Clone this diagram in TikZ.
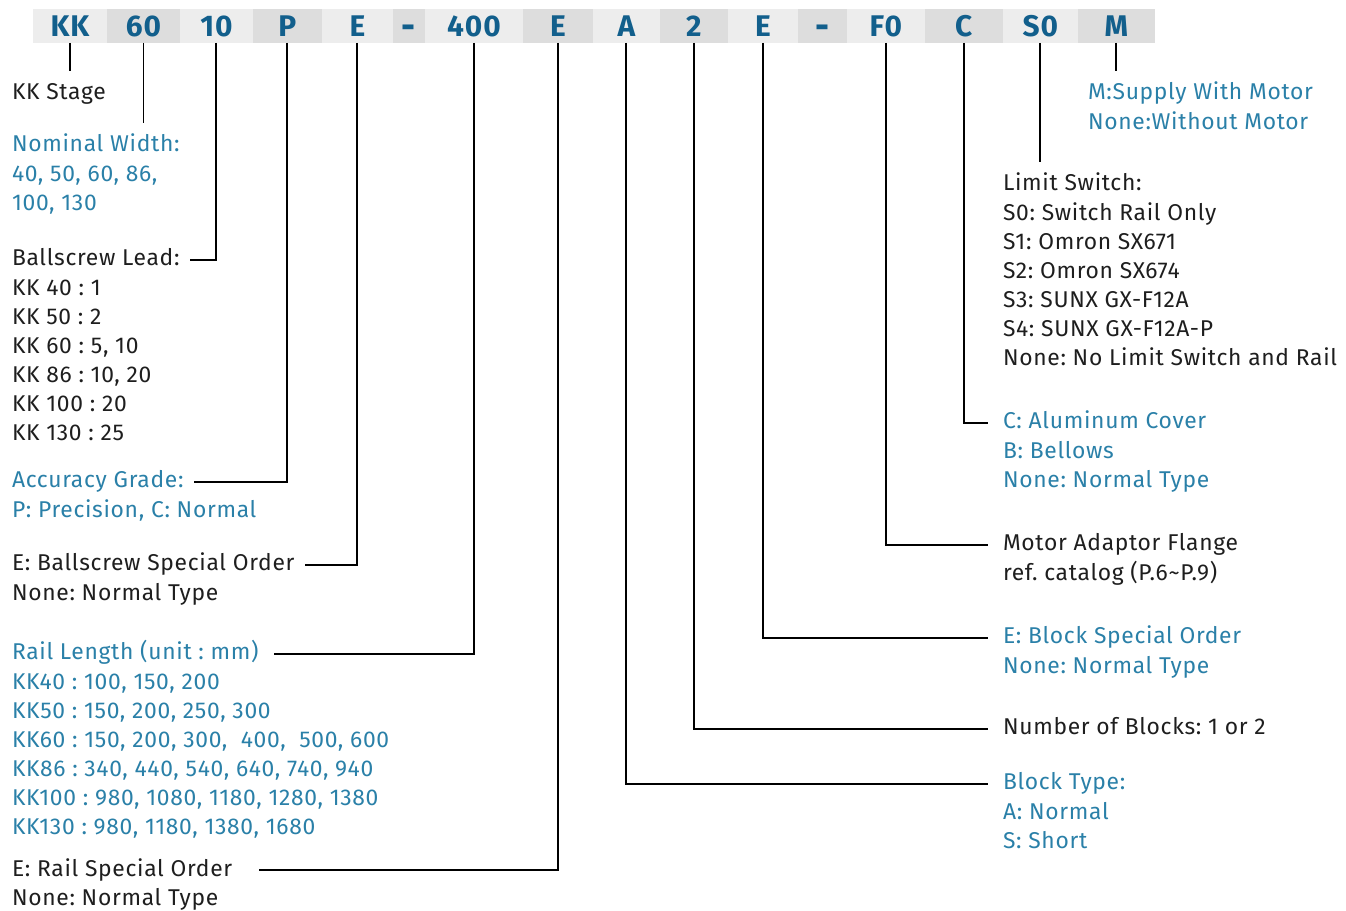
\documentclass[tikz,border=0pt]{standalone}
\usepackage{fontspec}
\setmainfont{Fira Sans}[LetterSpace=3]
\usetikzlibrary{positioning}
\definecolor{hiblue}{RGB}{42,128,168}
\definecolor{codeblue}{RGB}{18,95,140}
\definecolor{barlite}{RGB}{237,237,237}
\definecolor{bardark}{RGB}{221,221,221}
\definecolor{txtgray}{RGB}{30,30,30}
\newcommand{\lines}[1]{\begin{tabular}[t]{@{}l@{}}#1\end{tabular}}
\newcommand{\bardash}{\raisebox{-1.5pt}{\scalebox{1.15}[1.3]{-}}}
\tikzset{
  cell/.style={minimum height=0.68cm, inner sep=0pt, outer sep=0pt, anchor=west,
    text height=12pt, text depth=0pt,
    font=\fontsize{17}{18}\selectfont\bfseries, text=codeblue},
  lite/.style={cell, fill=barlite},
  dark/.style={cell, fill=bardark},
  txt/.style={inner sep=0pt, outer sep=0pt, anchor=base west, text=txtgray,
    font=\fontsize{13}{16.55}\selectfont\frenchspacing},
  hl/.style={txt, text=hiblue},
  head/.style={execute at begin node=\strut},
  body/.style={yshift=-16.55pt},
  link/.style={black, line width=1.1pt},
  tick/.style={link, shorten >=5pt},
  lgap/.style={link, shorten >=6pt},
  rgap/.style={link, shorten >=8.5pt},
}

\begin{document}
\begin{tikzpicture}[x=0.02cm, y=-0.02cm]
\useasboundingbox (0,0) rectangle (1346,911);
% code bar
\node[lite, minimum width=1.48cm] (cKK) at (33,26) {KK};
\node[dark, minimum width=1.46cm, right=0pt of cKK] (cW) {60};
\node[lite, minimum width=1.46cm, right=0pt of cW] (cLd) {10};
\node[dark, minimum width=1.38cm, right=0pt of cLd] (cAcc) {P};
\node[lite, minimum width=1.42cm, right=0pt of cAcc] (cBs) {E};
\node[dark, minimum width=0.64cm, right=0pt of cBs] (cD1) {\bardash};
\node[lite, minimum width=1.96cm, right=0pt of cD1] (cLen) {400};
\node[dark, minimum width=1.40cm, right=0pt of cLen] (cRs) {E};
\node[lite, minimum width=1.34cm, right=0pt of cRs] (cBt) {A};
\node[dark, minimum width=1.36cm, right=0pt of cBt] (cNb) {2};
\node[lite, minimum width=1.40cm, right=0pt of cNb] (cBk) {E};
\node[dark, minimum width=0.98cm, right=0pt of cBk] (cD2) {\bardash};
\node[lite, minimum width=1.56cm, right=0pt of cD2] (cFl) {F0};
\node[dark, minimum width=1.56cm, right=0pt of cFl] (cCv) {C};
\node[lite, minimum width=1.50cm, right=0pt of cCv] (cSw) {S0};
\node[dark, minimum width=1.54cm, right=0pt of cSw] (cMt) {M};

% left column
\node[txt, head] (stage) at (12,100) {KK Stage};
\node[hl, head] (wid) at (12,152) {Nominal Width:};
\node[hl, body] (widv) at (wid.base west) {\lines{40, 50, 60, 86,\\100, 130}};
\node[txt, head] (lead) at (12,266) {Ballscrew Lead:};
\node[txt, body] (leadv) at (lead.base west)
  {\lines{KK 40 : 1\\KK 50 : 2\\KK 60 : 5, 10\\KK 86 : 10, 20\\KK 100 : 20\\KK 130 : 25}};
\node[hl, head] (acc) at (12,488) {Accuracy Grade:};
\node[hl, body] (accv) at (acc.base west) {\lines{P: Precision, C: Normal}};
\node[txt, head] (bse) at (12,571) {E: Ballscrew Special Order};
\node[txt, body] (bsev) at (bse.base west) {\lines{None: Normal Type}};
\node[hl, head] (len) at (12,660) {Rail Length (unit : mm)};
\node[hl, body] (lenv) at (len.base west)
  {\lines{KK40 : 100, 150, 200\\KK50 : 150, 200, 250, 300\\KK60 : 150, 200, 300,\ \ 400,\ \ 500, 600\\
   KK86 : 340, 440, 540, 640, 740, 940\\KK100 : 980, 1080, 1180, 1280, 1380\\KK130 : 980, 1180, 1380, 1680}};
\node[txt, head] (rse) at (12,876) {E: Rail Special Order};
\node[txt, body] (rsev) at (rse.base west) {\lines{None: Normal Type}};

% right column
\node[hl, head] (mot) at (1088,100) {M:Supply With Motor};
\node[hl, body] (motv) at (mot.base west) {\lines{None:Without Motor}};
\node[txt, head] (sw) at (1003,191) {Limit Switch:};
\node[txt, body] (swv) at (sw.base west)
  {\lines{S0: Switch Rail Only\\S1: Omron SX671\\S2: Omron SX674\\S3: SUNX GX-F12A\\S4: SUNX GX-F12A-P\\None: No Limit Switch and Rail}};
\node[hl, head] (cov) at (1003,429) {C: Aluminum Cover};
\node[hl, body] (covv) at (cov.base west) {\lines{B: Bellows\\None: Normal Type}};
\node[txt, head] (fl) at (1003,551) {Motor Adaptor Flange};
\node[txt, body] (flv) at (fl.base west) {\lines{ref. catalog (P.6\textasciitilde P.9)}};
\node[hl, head] (bk) at (1003,644) {E: Block Special Order};
\node[hl, body] (bkv) at (bk.base west) {\lines{None: Normal Type}};
\node[txt, head] (nb) at (1003,735) {Number of Blocks: 1 or 2};
\node[hl, head] (bt) at (1003,790) {Block Type:};
\node[hl, body] (btv) at (bt.base west) {\lines{A: Normal\\S: Short}};

% leaders
\draw[tick] (cKK.south) -- (stage.north -| cKK.south);
\draw[tick] (cW.south) -- (wid.north -| cW.south);
\draw[lgap] (cLd.south) |- (lead.east);
\draw[lgap] (cAcc.south) |- (acc.east);
\draw[lgap] (cBs.south) |- (bse.east);
\draw[lgap, shorten >=9pt] (cLen.south) |- (len.east);
\draw[lgap, shorten >=15pt] (cRs.south) |- (rse.east);
\draw[rgap] (cBt.south) |- (bt.west);
\draw[rgap] (cNb.south) |- (nb.west);
\draw[rgap] (cBk.south) |- (bk.west);
\draw[rgap] (cFl.south) |- (fl.west);
\draw[rgap] (cCv.south) |- (cov.west);
\draw[tick] (cSw.south) -- (sw.north -| cSw.south);
\draw[tick] (cMt.south) -- (mot.north -| cMt.south);
\end{tikzpicture}
\end{document}
